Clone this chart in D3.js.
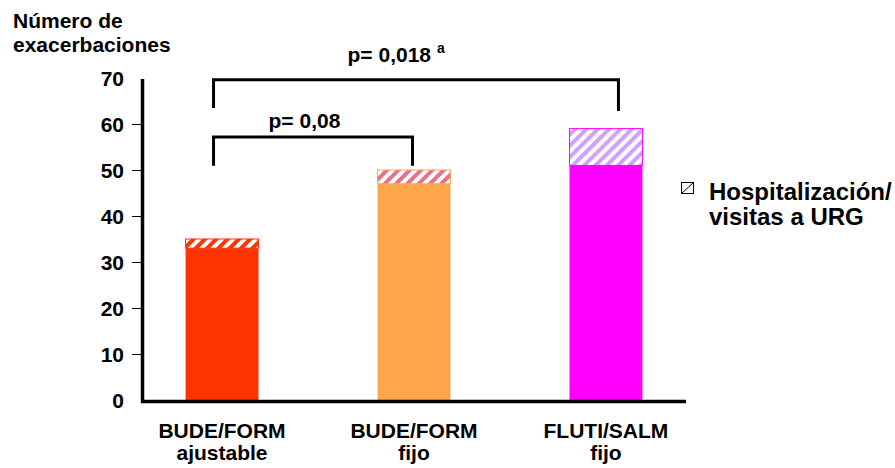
<!DOCTYPE html>
<html lang="es">
<head>
<meta charset="UTF-8">
<title>Número de exacerbaciones</title>
<script src="https://d3js.org/d3.v7.min.js"></script>
<style>
    body { margin: 0; background: #fff; }
    svg { display: block; }
    text { font-family: "Liberation Sans", Arial, sans-serif; font-weight: bold; fill: #000; }
</style>
</head>
<body>
<div id="chart"></div>
<script>
    // data
    const categories = ["BUDE/FORM ajustable", "BUDE/FORM fijo", "FLUTI/SALM fijo"];
    const categoryLines = [["BUDE/FORM", "ajustable"], ["BUDE/FORM", "fijo"], ["FLUTI/SALM", "fijo"]];
    const totalExacerbations = [35, 50, 59];
    const otherExacerbations = [33, 47, 51];   // solid part, rest is hospitalización/URG
    const yTicks = [0, 10, 20, 30, 40, 50, 60, 70];
    const comparisons = [
        {from: 0, to: 1, label: "p= 0,08", sup: ""},
        {from: 0, to: 2, label: "p= 0,018", sup: "a"}
    ];

    const barColors = ["#FF3300", "#FFA64D", "#FF00FF"];
    const hatchColors = ["#FF3300", "#E4728E", "#D2A0FF"];

    const W = 895, H = 468;
    const svg = d3.select("#chart").append("svg")
        .attr("width", W).attr("height", H);

    const x = d3.scaleBand()
        .domain(categories)
        .range([142, 686])
        .paddingInner(0.62)
        .paddingOuter(0.227);

    const y = d3.scaleLinear()
        .domain([0, 70])
        .range([400, 78]);

    // hatch patterns
    const defs = svg.append("defs");
    hatchColors.forEach((c, i) => {
        const p = defs.append("pattern")
            .attr("id", "hatch" + i)
            .attr("patternUnits", "userSpaceOnUse")
            .attr("width", 8).attr("height", 8)
            .attr("patternTransform", "rotate(45)");
        p.append("rect").attr("width", 8).attr("height", 8).attr("fill", "#fff");
        p.append("rect").attr("width", 4).attr("height", 8).attr("fill", c);
    });

    // bars
    categories.forEach((cat, i) => {
        const bx = x(cat), bw = x.bandwidth();
        svg.append("rect")
            .attr("x", bx).attr("y", y(totalExacerbations[i]))
            .attr("width", bw)
            .attr("height", y(otherExacerbations[i]) - y(totalExacerbations[i]))
            .attr("fill", `url(#hatch${i})`)
            .attr("stroke", barColors[i]).attr("stroke-width", 1);
        svg.append("rect")
            .attr("x", bx).attr("y", y(otherExacerbations[i]))
            .attr("width", bw)
            .attr("height", y(0) - y(otherExacerbations[i]))
            .attr("fill", barColors[i]);
    });

    // y axis
    const yAxis = svg.append("g")
        .attr("transform", "translate(142,0)")
        .call(d3.axisLeft(y).tickValues(yTicks).tickSize(10).tickPadding(8));
    yAxis.select(".domain").remove();
    yAxis.selectAll(".tick line")
        .attr("stroke", "#000").attr("stroke-width", 1)
        .attr("display", d => (d === 0 || d === 70) ? "none" : null);
    yAxis.selectAll(".tick text")
        .attr("font-size", 21).attr("font-family", null).attr("dy", "0.36em");

    svg.append("path")
        .attr("d", `M142.5,${y(70) + 1}V${y(0) + 1.5}H686`)
        .attr("fill", "none").attr("stroke", "#000").attr("stroke-width", 3.5);

    // category labels
    categories.forEach((cat, i) => {
        const t = svg.append("text")
            .attr("x", x(cat) + x.bandwidth() / 2)
            .attr("y", 438)
            .attr("text-anchor", "middle")
            .attr("font-size", 21);
        categoryLines[i].forEach((line, j) => {
            t.append("tspan").attr("x", x(cat) + x.bandwidth() / 2)
                .attr("dy", j === 0 ? 0 : 22).text(line);
        });
    });

    // significance brackets
    const bracketLayout = [
        {top: 57.2, legL: 50.9, legR: 50.9, offL: -8.5, offR: -1.5, tx: 55, ty: 128},
        {top: 69.6, legL: 63.5, legR: 62.8, offL: -8.5, offR: 12.5, tx: 134, ty: 62}
    ];
    comparisons.forEach((c, i) => {
        const L = bracketLayout[i];
        const x0 = x(categories[c.from]) + x.bandwidth() / 2 + L.offL;
        const x1 = x(categories[c.to]) + x.bandwidth() / 2 + L.offR;
        svg.append("path")
            .attr("d", `M${x0},${y(L.legL)}V${y(L.top)}H${x1}V${y(L.legR)}`)
            .attr("fill", "none").attr("stroke", "#000").attr("stroke-width", 3);
        const t = svg.append("text")
            .attr("x", x0 + L.tx).attr("y", L.ty)
            .attr("font-size", 21)
            .text(c.label);
        if (c.sup) {
            t.append("tspan").attr("dx", 6).attr("dy", -9)
                .attr("font-size", 14).text(c.sup);
        }
    });

    // y title
    const title = svg.append("text").attr("x", 13).attr("y", 28).attr("font-size", 21);
    title.append("tspan").attr("x", 13).text("Número de");
    title.append("tspan").attr("x", 13).attr("dy", 24).text("exacerbaciones");

    // legend
    const lg = svg.append("g").attr("transform", "translate(681,182)");
    lg.append("rect").attr("x", 0.5).attr("y", 0.5).attr("width", 12).attr("height", 11)
        .attr("fill", "#fff").attr("stroke", "#000").attr("stroke-width", 1);
    lg.append("line").attr("x1", 0.5).attr("y1", 11.5).attr("x2", 12.5).attr("y2", 0.5)
        .attr("stroke", "#000").attr("stroke-width", 1);
    const lt = svg.append("text").attr("x", 709).attr("y", 200).attr("font-size", 24);
    lt.append("tspan").attr("x", 709).text("Hospitalización/");
    lt.append("tspan").attr("x", 709).attr("dy", 25).text("visitas a URG");
</script>
</body>
</html>
